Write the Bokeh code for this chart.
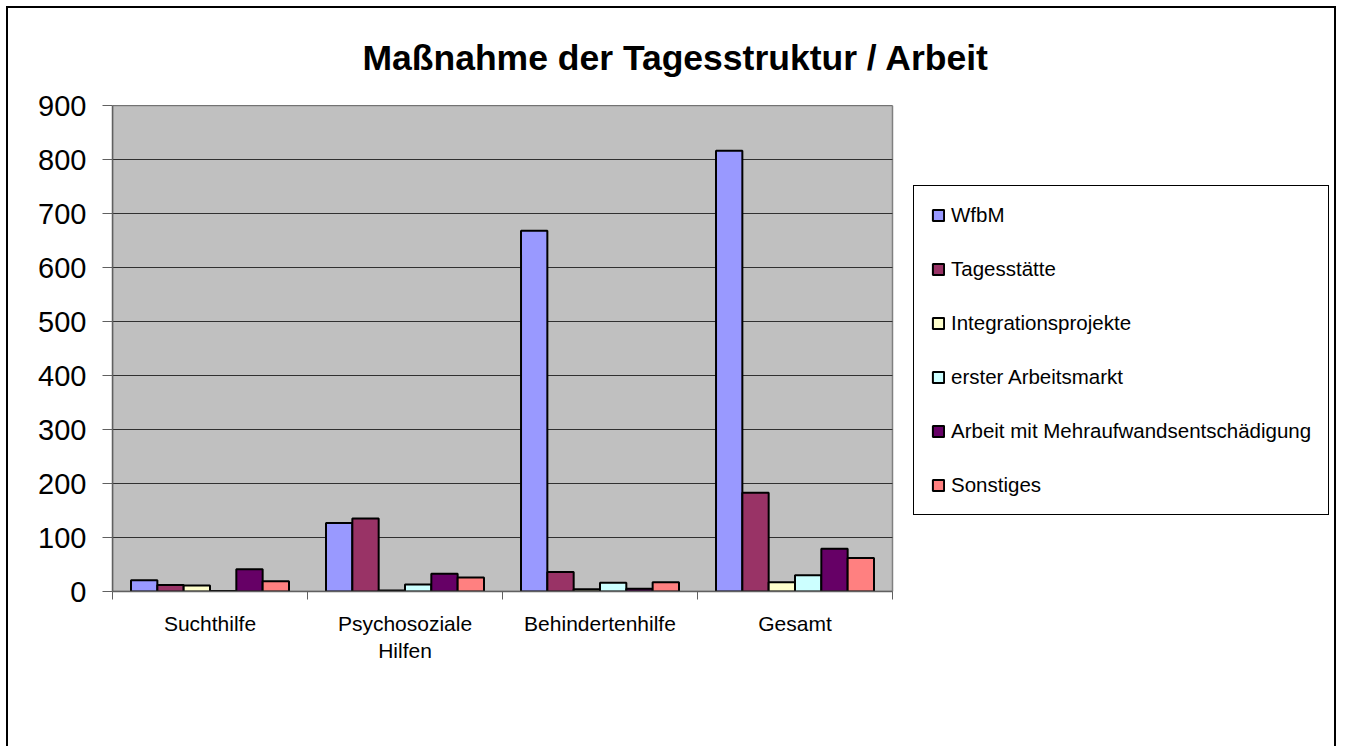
from bokeh.plotting import figure
from bokeh.models import (ColumnDataSource, Range1d, FixedTicker,
                          Legend, LegendItem, BoxAnnotation)
from bokeh.transform import dodge
from bokeh.embed import file_html
from bokeh.resources import INLINE

categories = ["Suchthilfe", "Psychosoziale Hilfen", "Behindertenhilfe", "Gesamt"]
category_labels = ["Suchthilfe", "Psychosoziale\nHilfen", "Behindertenhilfe", "Gesamt"]
series_names = ["WfbM", "Tagesstätte", "Integrationsprojekte", "erster Arbeitsmarkt",
                "Arbeit mit Mehraufwandsentschädigung", "Sonstiges"]
wfbm = [21, 127, 668, 816]
tagesstaette = [12, 135, 36, 183]
integration = [11, 2, 4, 17]
erster = [1, 13, 16, 30]
arbeit_mae = [41, 33, 5, 79]
sonstiges = [19, 26, 17, 62]
colors = ["#9999FF", "#993366", "#FFFFCC", "#CCFFFF", "#660066", "#FF8080"]
y_ticks = [0, 100, 200, 300, 400, 500, 600, 700, 800, 900]

values = [wfbm, tagesstaette, integration, erster, arbeit_mae, sonstiges]
keys = ["s%d" % i for i in range(len(values))]
n_cat = len(categories)
centres = [i + 0.5 for i in range(n_cat)]
bounds = list(range(n_cat + 1))
data = {"cat": categories, "pos": centres}
for k, v in zip(keys, values):
    data[k] = v
source = ColumnDataSource(data=data)

FONT = "Liberation Sans"

# frame spans the plot area plus the legend area on the right
PLOT_PX = 780.0
FRAME_PX = 1226.0
p = figure(width=1330, height=740,
           x_range=Range1d(0, n_cat * FRAME_PX / PLOT_PX),
           y_range=Range1d(0, 900),
           output_backend="svg", toolbar_location=None,
           min_border_left=104, min_border_right=0, min_border_top=97,
           min_border_bottom=157)
p.styles = {"border-top": "2px solid #000", "border-left": "2px solid #000",
            "border-right": "2px solid #000", "margin-left": "6px",
            "margin-top": "6px"}

p.title.text = "Maßnahme der Tagesstruktur / Arbeit"
p.title.text_font = FONT
p.title.text_font_size = "35.5px"
p.title.text_font_style = "bold"
p.title.text_color = "black"
p.title.align = "left"
p.title.offset = 250
p.title.standoff = 55

p.background_fill_color = "white"
p.border_fill_color = "white"
p.outline_line_color = None
p.xgrid.visible = False
p.ygrid.visible = False

# grey plot area
area = BoxAnnotation(left=0, right=n_cat, bottom=y_ticks[0], top=y_ticks[-1],
                     fill_color="#C0C0C0", fill_alpha=1, line_color="#808080",
                     line_width=1.5, line_alpha=1, level="underlay")
p.add_layout(area)

# horizontal grid lines restricted to the plot area
p.segment(x0=0, x1=n_cat, y0=y_ticks, y1=y_ticks, line_color="#303030",
          line_width=1)

w = 0.135
renderers = []
for i, (k, c) in enumerate(zip(keys, colors)):
    r = p.vbar(x=dodge("pos", (i - 2.5) * w), top=k, width=w,
               source=source, fill_color=c, line_color="black", line_width=2)
    renderers.append(r)

# y axis
yax = p.yaxis[0]
yax.ticker = FixedTicker(ticks=y_ticks)
yax.major_label_text_font = FONT
yax.major_label_text_font_size = "29px"
yax.major_label_text_color = "black"
yax.major_tick_in = 0
yax.major_tick_out = 10
yax.minor_tick_line_color = None
yax.axis_line_color = "#606060"
yax.axis_line_width = 1.5
yax.major_tick_line_color = "#606060"
yax.major_label_standoff = 16

# x axis: labels at category centres, tick marks at category boundaries
xax = p.xaxis[0]
xax.bounds = (0, n_cat)
xax.ticker = FixedTicker(ticks=centres, minor_ticks=bounds)
xax.major_label_overrides = {c: lab for c, lab in zip(centres, category_labels)}
xax.major_tick_line_color = None
xax.major_tick_out = 0
xax.major_tick_in = 0
xax.minor_tick_out = 8
xax.minor_tick_in = 0
xax.minor_tick_line_color = "#606060"
xax.axis_line_color = "#606060"
xax.axis_line_width = 1.5
xax.major_label_text_font = FONT
xax.major_label_text_font_size = "21px"
xax.major_label_text_color = "black"
xax.major_label_standoff = 12

items = [LegendItem(label=n, renderers=[r]) for n, r in zip(series_names, renderers)]
legend = Legend(items=items, location=(801, 76), margin=0)
legend.label_text_font = FONT
legend.label_text_font_size = "20.5px"
legend.label_text_color = "black"
legend.label_height = 23
legend.glyph_height = 14
legend.glyph_width = 14
legend.label_standoff = 6
legend.spacing = 30
legend.padding = 17
legend.border_line_color = "black"
legend.border_line_alpha = 1
legend.border_line_width = 1.2
legend.background_fill_color = "white"
legend.background_fill_alpha = 1
p.add_layout(legend)

open("out.html", "w").write(file_html(p, INLINE))
